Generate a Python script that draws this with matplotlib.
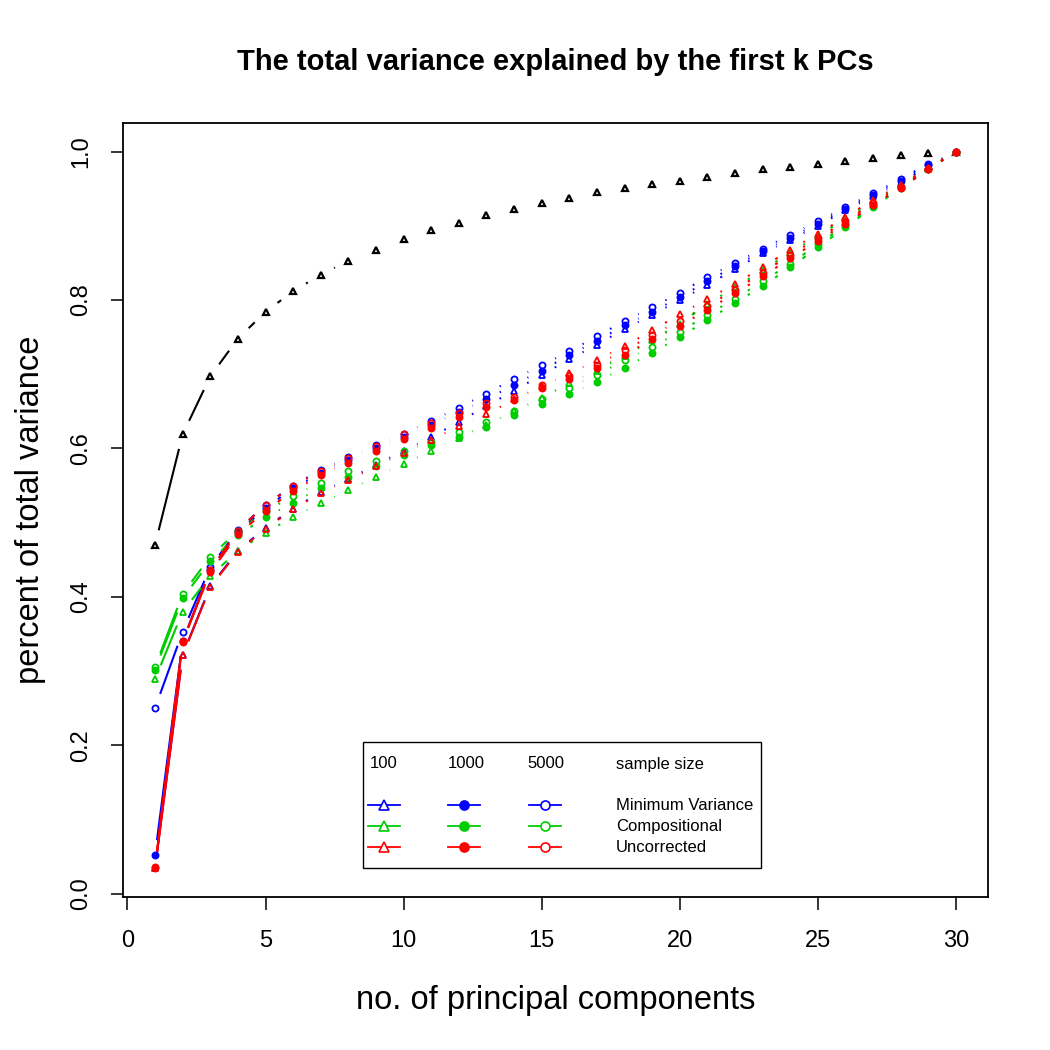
import numpy as np
import matplotlib
matplotlib.use("Agg")
import matplotlib.pyplot as plt
from matplotlib.lines import Line2D
from matplotlib.patches import Rectangle
from matplotlib.collections import LineCollection

plt.rcParams['font.family'] = ['Liberation Sans', 'DejaVu Sans']

# ---------------- data ----------------
k = list(range(1, 31))

black_total = [0.470, 0.619, 0.697, 0.748, 0.784, 0.812, 0.834, 0.853, 0.868, 0.882,
               0.894, 0.904, 0.914, 0.923, 0.931, 0.938, 0.945, 0.951, 0.956, 0.961,
               0.966, 0.971, 0.976, 0.980, 0.984, 0.988, 0.991, 0.995, 0.998, 1.000]

mv100 = [0.035, 0.322, 0.414, 0.462, 0.493, 0.519, 0.541, 0.559, 0.578, 0.597,
         0.615, 0.636, 0.657, 0.678, 0.699, 0.720, 0.740, 0.761, 0.780, 0.800,
         0.820, 0.842, 0.863, 0.881, 0.900, 0.921, 0.940, 0.958, 0.980, 1.000]
mv1000 = [0.052, 0.340, 0.436, 0.487, 0.520, 0.546, 0.567, 0.584, 0.600, 0.616,
          0.632, 0.649, 0.666, 0.686, 0.705, 0.726, 0.745, 0.766, 0.784, 0.804,
          0.825, 0.846, 0.866, 0.884, 0.903, 0.923, 0.942, 0.961, 0.982, 1.000]
mv5000 = [0.250, 0.353, 0.440, 0.490, 0.524, 0.550, 0.571, 0.588, 0.604, 0.620,
          0.637, 0.655, 0.674, 0.694, 0.712, 0.731, 0.751, 0.772, 0.790, 0.810,
          0.831, 0.850, 0.869, 0.888, 0.906, 0.925, 0.944, 0.963, 0.984, 1.000]

c100 = [0.289, 0.380, 0.428, 0.462, 0.486, 0.508, 0.526, 0.544, 0.562, 0.579,
        0.597, 0.614, 0.632, 0.650, 0.668, 0.688, 0.705, 0.725, 0.746, 0.768,
        0.795, 0.817, 0.840, 0.864, 0.886, 0.910, 0.933, 0.955, 0.977, 1.000]
c1000 = [0.302, 0.398, 0.448, 0.483, 0.507, 0.527, 0.547, 0.562, 0.576, 0.591,
         0.604, 0.615, 0.629, 0.645, 0.660, 0.673, 0.690, 0.709, 0.729, 0.750,
         0.773, 0.796, 0.819, 0.844, 0.871, 0.898, 0.925, 0.951, 0.976, 1.000]
c5000 = [0.305, 0.404, 0.454, 0.489, 0.515, 0.536, 0.554, 0.569, 0.583, 0.596,
         0.609, 0.622, 0.636, 0.651, 0.667, 0.682, 0.699, 0.719, 0.737, 0.757,
         0.780, 0.802, 0.825, 0.849, 0.875, 0.901, 0.927, 0.952, 0.977, 1.000]

u100 = [0.034, 0.321, 0.413, 0.461, 0.492, 0.518, 0.540, 0.557, 0.576, 0.594,
        0.611, 0.630, 0.646, 0.666, 0.684, 0.701, 0.719, 0.738, 0.759, 0.781,
        0.801, 0.822, 0.844, 0.868, 0.889, 0.912, 0.935, 0.955, 0.978, 1.000]
u1000 = [0.036, 0.340, 0.433, 0.484, 0.516, 0.543, 0.564, 0.581, 0.597, 0.613,
         0.628, 0.643, 0.656, 0.665, 0.681, 0.694, 0.709, 0.726, 0.747, 0.765,
         0.787, 0.809, 0.832, 0.856, 0.880, 0.903, 0.928, 0.951, 0.976, 1.000]
u5000 = [0.034, 0.339, 0.436, 0.489, 0.524, 0.549, 0.570, 0.587, 0.603, 0.619,
         0.634, 0.648, 0.661, 0.669, 0.685, 0.697, 0.713, 0.732, 0.753, 0.772,
         0.792, 0.814, 0.837, 0.861, 0.883, 0.906, 0.931, 0.953, 0.977, 1.000]

sample_sizes = ["100", "1000", "5000"]
methods = ["Minimum Variance", "Compositional", "Uncorrected"]
method_colors = ["#0000FF", "#00CD00", "#FF0000"]
series = [[mv100, mv1000, mv5000], [c100, c1000, c5000], [u100, u1000, u5000]]
size_markers = [dict(marker='^', fill=False), dict(marker='o', fill=True), dict(marker='o', fill=False)]

title = "The total variance explained by the first k PCs"
xlabel = "no. of principal components"
ylabel = "percent of total variance"
xticks = [0, 5, 10, 15, 20, 25, 30]
yticks = [0.0, 0.2, 0.4, 0.6, 0.8, 1.0]

# ---------------- figure ----------------
W = H = 1050
fig = plt.figure(figsize=(10.5, 10.5), dpi=100)
ax = fig.add_axes([123 / W, 1 - 897 / H, 865 / W, 774 / H])

all_y = np.concatenate([np.array(s) for grp in series for s in grp] + [np.array(black_total)])
xr = max(k) - min(k)
yr = all_y.max() - all_y.min()
ax.set_xlim(min(k) - 0.04 * xr, max(k) + 0.04 * xr)
ax.set_ylim(all_y.min() - 0.04 * yr, all_y.max() + 0.04 * yr)

GAP = 15.0  # pixels, R type="b" gap


def gapped_segments(x, y):
    tr = ax.transData
    inv = tr.inverted()
    pts = tr.transform(np.column_stack([x, y]))
    segs = []
    for i in range(len(pts) - 1):
        p0, p1 = pts[i], pts[i + 1]
        d = p1 - p0
        L = np.hypot(*d)
        if L > 2 * GAP:
            u = d / L
            q0 = p0 + u * GAP
            q1 = p1 - u * GAP
            segs.append(inv.transform(np.array([q0, q1])))
    return segs


def draw_b(x, y, color, marker, fill, ms, lw=1.5, mew=1.3):
    lc = LineCollection(gapped_segments(x, y), colors=color, linewidths=lw,
                        capstyle='butt', zorder=2)
    ax.add_collection(lc)
    ax.plot(x, y, linestyle='none', marker=marker, markersize=ms,
            markerfacecolor=color if fill else 'none', markeredgecolor=color,
            markeredgewidth=mew, zorder=3)


draw_b(k, black_total, 'black', '^', False, 4.6, mew=1.6)
for grp, col in zip(series, method_colors):
    for s, mk in zip(grp, size_markers):
        ms = 5.0 if mk['marker'] == '^' else 4.4
        draw_b(k, s, col, mk['marker'], mk['fill'], ms)

ax.set_xticks(xticks)
ax.set_yticks(yticks)
ax.set_yticklabels([f"{v:.1f}" for v in yticks])
ax.tick_params(axis='both', direction='out', length=9, width=1.1, labelsize=17)
ax.tick_params(axis='x', pad=15)
ax.tick_params(axis='y', pad=13, labelrotation=90)
for lab in ax.get_yticklabels():
    lab.set_verticalalignment('center')
for sp in ax.spines.values():
    sp.set_linewidth(1.3)

ax.set_xlabel(xlabel, fontsize=23.5)
ax.xaxis.label.set_verticalalignment('center')
ax.xaxis.set_label_coords(0.5, (897 - 1000) / 774)
ax.set_ylabel(ylabel, fontsize=23.5)
ax.yaxis.label.set_verticalalignment('center')
ax.yaxis.set_label_coords((30 - 123) / 865, 0.5)

ax.text(0.5, (897 - 62) / 774, title, transform=ax.transAxes, ha='center', va='center',
        fontsize=21, fontweight='bold')

# ---------------- legend (manual, R style) ----------------
def fx(px):
    return px / W


def fy(py):
    return 1 - py / H


fig.add_artist(Rectangle((fx(363), fy(868)), fx(761) - fx(363), (868 - 742) / H,
                         transform=fig.transFigure, fill=False, edgecolor='black', lw=1.0))
hdr_x = [370, 448, 527]
for txt, px in zip(sample_sizes, hdr_x):
    fig.text(fx(px), fy(764), txt, ha='left', va='center', fontsize=12)
fig.text(fx(616), fy(764), "sample size", ha='left', va='center', fontsize=12)

row_y = [805, 826, 847]
col_mid = [384, 464, 545]
for name, col, py in zip(methods, method_colors, row_y):
    for mk, cx in zip(size_markers, col_mid):
        fig.add_artist(Line2D([fx(cx - 16), fx(cx + 16)], [fy(py), fy(py)],
                              transform=fig.transFigure, color=col, lw=1.3))
        fig.add_artist(Line2D([fx(cx)], [fy(py)], transform=fig.transFigure,
                              marker=mk['marker'], markersize=7 if mk['marker'] == '^' else 6.5,
                              markerfacecolor=col if mk['fill'] else 'white',
                              markeredgecolor=col, markeredgewidth=1.2, linestyle='none'))
    fig.text(fx(616), fy(py), name, ha='left', va='center', fontsize=12)

fig.savefig("out.png", dpi=100)
